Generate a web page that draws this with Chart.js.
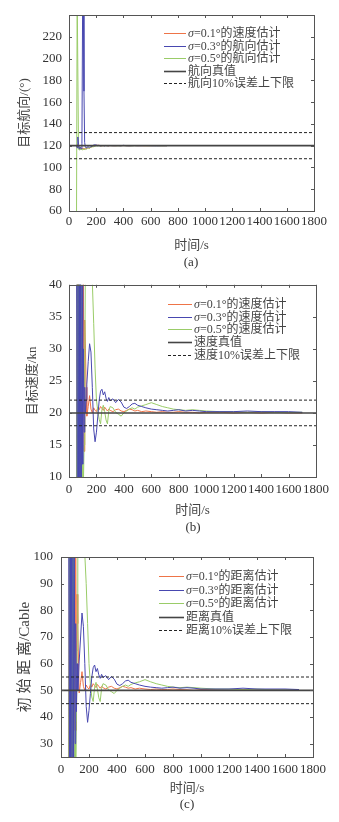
<!DOCTYPE html>
<html>
<head>
<meta charset="utf-8">
<script src="https://cdn.jsdelivr.net/npm/chart.js@4"></script>
<style>
body { margin: 0; background: #fff; width: 339px; height: 822px; position: relative; overflow: hidden; }
canvas { position: absolute; left: 0; }
.cap { position: absolute; font: 13px "Liberation Serif", serif; color: #333; transform: translate(-50%, -50%); white-space: nowrap; }
</style>
</head>
<body>
<canvas id="chartA" width="339" height="256" style="top:0"></canvas>
<div class="cap" style="left:191px;top:262px">(a)</div>
<canvas id="chartB" width="339" height="251" style="top:270px"></canvas>
<div class="cap" style="left:193px;top:527px">(b)</div>
<canvas id="chartC" width="339" height="259" style="top:540px"></canvas>
<div class="cap" style="left:187px;top:804px">(c)</div>
<script>
// time axis (s)
const timeTicks = [0, 200, 400, 600, 800, 1000, 1200, 1400, 1600, 1800];
const truthTime = [0, 1800];
// sample times of the estimates
const timeS = [55, 60, 65, 70, 75, 80, 85, 90, 95, 100,
    105, 110, 115, 120, 125, 130, 140, 150, 160, 170,
    180, 190, 200, 210, 220, 230, 240, 250, 260, 270,
    280, 290, 300, 320, 340, 360, 380, 400, 420, 440,
    460, 480, 500, 530, 560, 600, 640, 680, 720, 760,
    800, 850, 900, 950, 1000, 1100, 1200, 1300, 1400, 1500,
    1600, 1700];

// (a) heading
const headingTicks = [60, 80, 100, 120, 140, 160, 180, 200, 220, 240];
const headingTickLabels = ['60', '80', '100', '120', '140', '160', '180', '200', '220', ''];
const headingRed = [119, 121, 118, 119.5, 118, 117, 118.5, 117.5, 118, 117,
    117.5, 116.5, 117, 117.5, 117, 117.5, 118, 117.5, 118.5, 119,
    119.5, 120, 120.5, 120.2, 120.4, 120, 119.8, 120.1, 119.9, 120.2,
    120, 119.8, 120.1, 120, 119.9, 120.1, 120, 120.1, 120, 119.9,
    120, 120.1, 120, 120, 119.9, 120, 120.1, 120, 120];
const headingBlue = [120, 118, 128, 121, 117, 119, 118, 117, 122, 250,
    260, 170, 123, 119, 118, 118.5, 119, 118.5, 119, 119.5,
    120.5, 120.8, 120.5, 120.3, 120.2, 119.8, 120, 120.2, 119.8, 120.1,
    120, 119.9, 120.1, 120, 120, 120.1, 119.9, 120.3, 120, 119.9,
    120, 120.1, 120, 120, 120.1, 120, 119.9, 120, 120];
const headingGreen = [40, 260, 260, 117, 116, 118, 116, 117, 116.5, 116,
    117, 116.5, 117, 116.5, 117, 117.5, 118, 117.5, 118.5, 119,
    119, 119.5, 120, 119.8, 120.1, 119.8, 120, 119.9, 120.1, 120,
    119.9, 120, 120.1, 120, 120, 119.9, 120, 120.1, 120, 120,
    119.9, 120, 120, 120.1, 120, 120, 120, 119.9, 120];
const headingTruth = [120, 120];
const headingUpper = [132, 132];
const headingLower = [108, 108];

// (b) speed
const speedTicks = [10, 15, 20, 25, 30, 35, 40];
const speedRed = [8, 45, 6, 42, 12, 38, 9, 36, 14, 30,
    42, 14, 34.5, 30, 24, 19.5, 21, 22.7, 20.6, 20.0,
    20.8, 20.4, 20.2, 20.9, 20.5, 21.0, 20.7, 20.4, 20.9, 20.6,
    20.3, 20.6, 20.4, 20.2, 20.5, 20.6, 20.3, 20.2, 20.4, 20.6,
    20.5, 20.3, 20.4, 20.2, 20.3, 20.2, 20.1, 20.2, 20.1, 20.1,
    20.2, 20.1, 20.1, 20.0, 20.1, 20.1, 20.0, 20.1, 20.0, 20.1,
    20.0, 20.0];
const speedBlue = [45, 4, 48, 3, 44, 6, 42, 10, 40, 12,
    30, 17, 24, 20, 22, 24.5, 28, 30.8, 29.5, 24,
    17.5, 15.5, 17, 19.5, 22, 23.4, 23.7, 22.8, 23.3, 22.3,
    21.8, 22.4, 21.9, 22.2, 21.6, 22.1, 21.7, 20.9, 20.7, 21.0,
    21.4, 21.5, 21.2, 21.0, 20.8, 20.6, 20.5, 20.4, 20.3, 20.4,
    20.5, 20.3, 20.4, 20.3, 20.2, 20.2, 20.2, 20.3, 20.2, 20.2,
    20.2, 20.1];
const speedGreen = [5, 44, 8, 42, 3, 48, 10, 40, 5, 12,
    9, 15, 26, 46, 45, 44, 43, 42, 41, 40.5,
    34, 27, 22, 20.3, 19.0, 18.3, 20.5, 21.2, 20.2, 18.9,
    18.3, 20.3, 21.0, 20.8, 20.1, 19.8, 19.5, 20.0, 20.3, 20.6,
    20.8, 20.6, 20.9, 21.1, 21.3, 21.6, 21.3, 21.0, 20.8, 20.6,
    20.5, 20.4, 20.5, 20.4, 20.3, 20.2, 20.2, 20.1, 20.2, 20.1,
    20.1, 20.1];
const speedTruth = [20, 20];
const speedUpper = [22, 22];
const speedLower = [18, 18];

// (c) initial range
const rangeTicks = [30, 40, 50, 60, 70, 80, 90, 100];
const rangeRed = [20, 110, 15, 105, 30, 95, 22, 90, 35, 75,
    105, 35, 86, 75, 60, 49, 53, 57, 51.5, 50,
    52, 51, 50.5, 52.2, 51.2, 52.5, 51.8, 51, 52.2, 51.5,
    50.8, 51.5, 51, 50.5, 51.2, 51.5, 50.8, 50.5, 51, 51.5,
    51.2, 50.8, 51, 50.5, 50.8, 50.5, 50.3, 50.5, 50.3, 50.3,
    50.5, 50.3, 50.2, 50, 50.3, 50.2, 50, 50.3, 50.1, 50.2,
    50.1, 50.1];
const rangeBlue = [110, 10, 115, 8, 110, 15, 105, 25, 100, 30,
    75, 42, 60, 50, 55, 61, 70, 79, 74, 60,
    44, 38, 42.5, 48.8, 55, 58.5, 59.5, 57, 58.2, 55.8,
    54.5, 56, 54.8, 55.5, 54, 55.2, 54.2, 52.3, 51.8, 52.5,
    53.5, 53.8, 53, 52.5, 52, 51.5, 51.2, 51, 50.8, 51,
    51.2, 50.8, 51, 50.8, 50.5, 50.5, 50.5, 50.8, 50.5, 50.5,
    50.5, 50.3];
const rangeGreen = [12, 110, 20, 105, 8, 120, 25, 100, 12, 30,
    22, 38, 65, 115, 113, 112, 110, 108, 105, 101,
    90, 75, 60, 52, 47.5, 45.8, 51.2, 53, 50.5, 47.2,
    45.8, 50.8, 52.5, 52, 50.2, 49.5, 48.8, 50, 50.8, 51.5,
    52, 51.5, 52.2, 52.8, 53.2, 54, 53.2, 52.5, 52, 51.5,
    51.2, 51, 51.2, 51, 50.8, 50.5, 50.5, 50.2, 50.5, 50.2,
    50.2, 50.2];
const rangeTruth = [50, 50];
const rangeUpper = [55, 55];
const rangeLower = [45, 45];

const serif = '"Liberation Serif", "Noto Sans CJK SC", serif';

function pts(xs, ys) {
    return ys.map((y, i) => ({ x: xs[i], y: y }));
}

// box with inward ticks on all four sides
const boxPlugin = {
    id: 'box',
    afterDatasetsDraw(chart) {
        const { ctx, chartArea: a, scales } = chart;
        ctx.save();
        ctx.strokeStyle = '#555';
        ctx.lineWidth = 1;
        ctx.strokeRect(Math.round(a.left) + 0.5, Math.round(a.top) + 0.5,
            Math.round(a.right - a.left), Math.round(a.bottom - a.top));
        ctx.beginPath();
        scales.x.ticks.forEach(t => {
            const px = Math.round(scales.x.getPixelForValue(t.value)) + 0.5;
            ctx.moveTo(px, a.bottom); ctx.lineTo(px, a.bottom - 3);
            ctx.moveTo(px, a.top); ctx.lineTo(px, a.top + 3);
        });
        scales.y.ticks.forEach(t => {
            const py = Math.round(scales.y.getPixelForValue(t.value)) + 0.5;
            ctx.moveTo(a.left, py); ctx.lineTo(a.left + 3, py);
            ctx.moveTo(a.right, py); ctx.lineTo(a.right - 3, py);
        });
        ctx.stroke();
        ctx.restore();
    }
};

// legend drawn inside the plot area
const legendPlugin = {
    id: 'innerLegend',
    afterDraw(chart, args, opts) {
        const { ctx, chartArea } = chart;
        const x0 = chartArea.left + opts.x;
        const y0 = chartArea.top + opts.y;
        const normal = '12px ' + serif;
        ctx.save();
        ctx.textBaseline = 'middle';
        let row = 0;
        chart.data.datasets.forEach(ds => {
            if (!ds.label) return;
            const y = Math.round(y0 + row * opts.gap) + 0.5;
            ctx.strokeStyle = ds.borderColor;
            ctx.lineWidth = ds.borderWidth;
            ctx.setLineDash(ds.borderDash || []);
            ctx.beginPath();
            ctx.moveTo(x0, y);
            ctx.lineTo(x0 + opts.len, y);
            ctx.stroke();
            ctx.setLineDash([]);
            ctx.fillStyle = '#444';
            let tx = x0 + opts.len + 2;
            let text = ds.label;
            if (text[0] === 'σ') {
                ctx.font = 'italic ' + normal;
                ctx.fillText('σ', tx, y);
                tx += ctx.measureText('σ').width;
                text = text.slice(1);
            }
            ctx.font = normal;
            ctx.fillText(text, tx, y);
            row++;
        });
        ctx.restore();
    }
};

function makeChart(id, cfg) {
    const line = (label, data, color, width, order, dash) => ({
        label: label, data: data, borderColor: color, borderWidth: width,
        borderDash: dash || [], order: order, pointRadius: 0, tension: 0, clip: 0, fill: false
    });
    return new Chart(document.getElementById(id), {
        type: 'line',
        data: {
            datasets: [
                line(cfg.labels[0], pts(timeS, cfg.red), '#ee7448', 1, 4),
                line(cfg.labels[1], pts(timeS, cfg.blue), '#4848b0', 1, 2),
                line(cfg.labels[2], pts(timeS, cfg.green), '#9acc68', 1, 3),
                line(cfg.labels[3], pts(truthTime, cfg.truth), '#454545', 1.6, 0),
                line(cfg.labels[4], pts(truthTime, cfg.upper), '#222', 1, 1, [3, 2]),
                line('', pts(truthTime, cfg.lower), '#222', 1, 1, [3, 2])
            ]
        },
        options: {
            responsive: false,
            animation: false,
            events: [],
            layout: { padding: { top: cfg.top, right: cfg.right, left: 0, bottom: 0 } },
            plugins: {
                legend: { display: false },
                tooltip: { enabled: false },
                innerLegend: cfg.legend
            },
            scales: {
                x: {
                    type: 'linear', min: 0, max: 1800,
                    grid: { display: false, drawTicks: false },
                    border: { display: false },
                    afterBuildTicks: s => { s.ticks = timeTicks.map(v => ({ value: v })); },
                    afterFit: s => { s.height = cfg.xHeight; },
                    ticks: {
                        autoSkip: false, maxRotation: 0, padding: cfg.xPad, color: '#333',
                        font: { family: serif, size: 13 },
                        callback: v => String(v)
                    },
                    title: { display: true, text: '时间/s', color: '#444', padding: { top: 0, bottom: 3 }, font: { family: serif, size: 13 } }
                },
                y: {
                    type: 'linear', min: cfg.min, max: cfg.max,
                    grid: { display: false, drawTicks: false },
                    border: { display: false },
                    afterBuildTicks: s => { s.ticks = cfg.ticks.map(v => ({ value: v })); },
                    afterFit: s => { s.width = cfg.left; },
                    ticks: {
                        padding: cfg.yPad, color: '#333', font: { family: serif, size: 13 },
                        callback: v => cfg.tickLabels ? cfg.tickLabels[cfg.ticks.indexOf(v)] : String(v)
                    },
                    title: { display: true, text: cfg.yTitle, color: '#444', padding: { top: cfg.yTitlePad, bottom: 0 }, font: { family: serif, size: cfg.yTitleSize } }
                }
            }
        },
        plugins: [boxPlugin, legendPlugin]
    });
}

makeChart('chartA', {
    labels: ['σ=0.1°的速度估计', 'σ=0.3°的航向估计', 'σ=0.5°的航向估计', '航向真值', '航向10%误差上下限'],
    red: headingRed, blue: headingBlue, green: headingGreen,
    truth: headingTruth, upper: headingUpper, lower: headingLower,
    min: 60, max: 240, ticks: headingTicks, tickLabels: headingTickLabels,
    yTitle: '目标航向/(°)', yTitleSize: 13, yTitlePad: 17,
    top: 15, right: 25, left: 69, xHeight: 45, xPad: 3, yPad: 7,
    legend: { x: 95, y: 18, gap: 12.5, len: 22 }
});

makeChart('chartB', {
    labels: ['σ=0.1°的速度估计', 'σ=0.3°的速度估计', 'σ=0.5°的速度估计', '速度真值', '速度10%误差上下限'],
    red: speedRed, blue: speedBlue, green: speedGreen,
    truth: speedTruth, upper: speedUpper, lower: speedLower,
    min: 10, max: 40, ticks: speedTicks,
    yTitle: '目标速度/kn', yTitleSize: 13, yTitlePad: 25,
    top: 13, right: 23, left: 69, xHeight: 44, xPad: 5, yPad: 7,
    legend: { x: 99, y: 19, gap: 12.8, len: 24 }
});

makeChart('chartC', {
    labels: ['σ=0.1°的距离估计', 'σ=0.3°的距离估计', 'σ=0.5°的距离估计', '距离真值', '距离10%误差上下限'],
    red: rangeRed, blue: rangeBlue, green: rangeGreen,
    truth: rangeTruth, upper: rangeUpper, lower: rangeLower,
    min: 25, max: 100, ticks: rangeTicks,
    yTitle: '初 始 距 离/Cable', yTitleSize: 15, yTitlePad: 16,
    top: 17, right: 26, left: 61, xHeight: 42, xPad: 5, yPad: 8,
    legend: { x: 98, y: 19, gap: 13.5, len: 25 }
});
</script>
</body>
</html>
